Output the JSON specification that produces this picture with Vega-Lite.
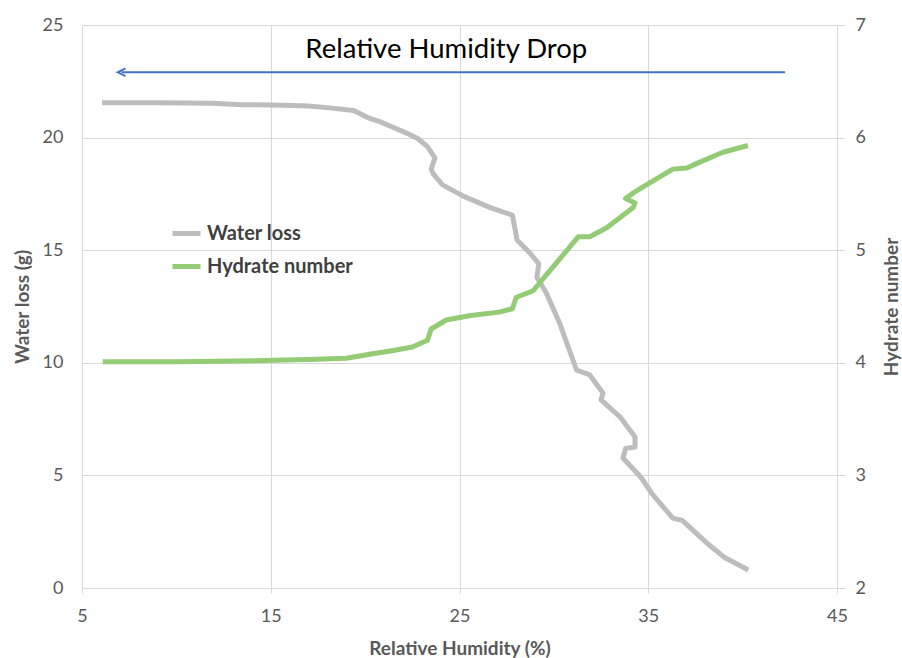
{
  "$schema": "https://vega.github.io/schema/vega-lite/v6.json",
  "width": 755,
  "height": 563,
  "autosize": {"type": "none"},
  "padding": {"left": 82, "top": 25, "right": 65, "bottom": 70},
  "background": "white",
  "config": {
    "font": "Lato",
    "view": {"stroke": null},
    "axis": {"gridColor": "#d9d9d9", "domain": false, "labelFlush": false, "labelColor": "#595959", "labelFontSize": 18, "titleColor": "#595959", "titleFontSize": 19, "titleFontWeight": "bold", "tickColor": "#d9d9d9"}
  },
  "datasets": {
    "water": [
      {"series": "Water loss", "rh": 6.06, "v": 21.55}, {"series": "Water loss", "rh": 9.0, "v": 21.55}, {"series": "Water loss", "rh": 11.9, "v": 21.52}, {"series": "Water loss", "rh": 13.5, "v": 21.46},
      {"series": "Water loss", "rh": 15.1, "v": 21.45}, {"series": "Water loss", "rh": 17.0, "v": 21.4}, {"series": "Water loss", "rh": 18.1, "v": 21.32}, {"series": "Water loss", "rh": 19.4, "v": 21.2},
      {"series": "Water loss", "rh": 20.1, "v": 20.9}, {"series": "Water loss", "rh": 20.8, "v": 20.7}, {"series": "Water loss", "rh": 21.5, "v": 20.45}, {"series": "Water loss", "rh": 22.2, "v": 20.2},
      {"series": "Water loss", "rh": 22.8, "v": 19.95}, {"series": "Water loss", "rh": 23.3, "v": 19.6}, {"series": "Water loss", "rh": 23.7, "v": 19.1}, {"series": "Water loss", "rh": 23.5, "v": 18.6},
      {"series": "Water loss", "rh": 23.6, "v": 18.4}, {"series": "Water loss", "rh": 24.1, "v": 17.9}, {"series": "Water loss", "rh": 25.2, "v": 17.4}, {"series": "Water loss", "rh": 26.6, "v": 16.9},
      {"series": "Water loss", "rh": 27.8, "v": 16.56}, {"series": "Water loss", "rh": 28.05, "v": 15.45}, {"series": "Water loss", "rh": 28.7, "v": 14.9}, {"series": "Water loss", "rh": 29.2, "v": 14.4},
      {"series": "Water loss", "rh": 29.1, "v": 13.8}, {"series": "Water loss", "rh": 29.6, "v": 13.1}, {"series": "Water loss", "rh": 30.3, "v": 11.77}, {"series": "Water loss", "rh": 31.2, "v": 9.68},
      {"series": "Water loss", "rh": 31.9, "v": 9.46}, {"series": "Water loss", "rh": 32.6, "v": 8.66}, {"series": "Water loss", "rh": 32.5, "v": 8.35}, {"series": "Water loss", "rh": 33.5, "v": 7.6},
      {"series": "Water loss", "rh": 34.3, "v": 6.7}, {"series": "Water loss", "rh": 34.3, "v": 6.26}, {"series": "Water loss", "rh": 33.8, "v": 6.2}, {"series": "Water loss", "rh": 33.66, "v": 5.77},
      {"series": "Water loss", "rh": 34.6, "v": 4.93}, {"series": "Water loss", "rh": 35.25, "v": 4.13}, {"series": "Water loss", "rh": 36.3, "v": 3.1}, {"series": "Water loss", "rh": 36.8, "v": 3.0},
      {"series": "Water loss", "rh": 38.1, "v": 2.0}, {"series": "Water loss", "rh": 39.0, "v": 1.38}, {"series": "Water loss", "rh": 40.3, "v": 0.8}
    ],
    "hydrate": [
      {"series": "Hydrate number", "rh": 6.1, "h": 4.01}, {"series": "Hydrate number", "rh": 10.0, "h": 4.01}, {"series": "Hydrate number", "rh": 14.6, "h": 4.02}, {"series": "Hydrate number", "rh": 17.0, "h": 4.03},
      {"series": "Hydrate number", "rh": 19.0, "h": 4.04}, {"series": "Hydrate number", "rh": 20.4, "h": 4.08}, {"series": "Hydrate number", "rh": 21.5, "h": 4.11}, {"series": "Hydrate number", "rh": 22.5, "h": 4.14},
      {"series": "Hydrate number", "rh": 23.3, "h": 4.2}, {"series": "Hydrate number", "rh": 23.5, "h": 4.3}, {"series": "Hydrate number", "rh": 24.3, "h": 4.38}, {"series": "Hydrate number", "rh": 25.6, "h": 4.42},
      {"series": "Hydrate number", "rh": 27.1, "h": 4.45}, {"series": "Hydrate number", "rh": 27.8, "h": 4.48}, {"series": "Hydrate number", "rh": 28.0, "h": 4.58}, {"series": "Hydrate number", "rh": 28.9, "h": 4.64},
      {"series": "Hydrate number", "rh": 29.4, "h": 4.74}, {"series": "Hydrate number", "rh": 31.3, "h": 5.12}, {"series": "Hydrate number", "rh": 31.9, "h": 5.12}, {"series": "Hydrate number", "rh": 32.8, "h": 5.2},
      {"series": "Hydrate number", "rh": 34.2, "h": 5.38}, {"series": "Hydrate number", "rh": 34.3, "h": 5.42}, {"series": "Hydrate number", "rh": 33.8, "h": 5.46}, {"series": "Hydrate number", "rh": 34.4, "h": 5.53},
      {"series": "Hydrate number", "rh": 35.1, "h": 5.6}, {"series": "Hydrate number", "rh": 36.3, "h": 5.72}, {"series": "Hydrate number", "rh": 37.05, "h": 5.73}, {"series": "Hydrate number", "rh": 37.7, "h": 5.78},
      {"series": "Hydrate number", "rh": 38.96, "h": 5.87}, {"series": "Hydrate number", "rh": 40.28, "h": 5.93}
    ],
    "arrow": [{"x1": 42.25, "x2": 7.1, "y": 22.9}],
    "label": [{"x": 24.3, "y": 23.9, "text": "Relative Humidity Drop"}]
  },
  "layer": [
    {
      "layer": [
        {
          "data": {"name": "water"},
          "mark": {"type": "line", "strokeWidth": 5, "strokeJoin": "round"},
          "encoding": {
            "x": {"field": "rh", "type": "quantitative", "scale": {"domain": [5, 45], "nice": false}, "axis": {"title": "Relative Humidity (%)", "values": [5, 15, 25, 35, 45], "tickSize": 5, "labelPadding": 14, "titlePadding": 14}},
            "y": {"field": "v", "type": "quantitative", "scale": {"domain": [0, 25], "nice": false}, "axis": {"title": "Water loss (g)", "values": [0, 5, 10, 15, 20, 25], "ticks": false, "labelPadding": 19, "titlePadding": 10}},
            "color": {"field": "series", "type": "nominal", "scale": {"domain": ["Water loss", "Hydrate number"], "range": ["#bdbdbd", "#93cc74"]},
              "legend": {"title": null, "orient": "none", "legendX": 88, "legendY": 192, "symbolType": "stroke", "symbolStrokeWidth": 5, "symbolSize": 784, "labelFontSize": 20, "labelColor": "#404040", "labelFontWeight": "bold", "labelOffset": 4, "rowPadding": 6}},
            "order": {"value": null}
          }
        },
        {
          "data": {"name": "arrow"},
          "mark": {"type": "rule", "color": "#4472c4", "strokeWidth": 2},
          "encoding": {"x": {"field": "x1", "type": "quantitative"}, "x2": {"field": "x2"}, "y": {"field": "y", "type": "quantitative"}}
        },
        {
          "data": {"name": "arrow"},
          "mark": {"type": "point", "shape": "M1,-1L-1,0L1,1", "filled": false, "color": "#4472c4", "strokeWidth": 2, "size": 60, "opacity": 1},
          "encoding": {"x": {"field": "x2", "type": "quantitative"}, "y": {"field": "y", "type": "quantitative"}}
        },
        {
          "data": {"name": "label"},
          "mark": {"type": "text", "fontSize": 27.5, "color": "#000000", "font": "Lato"},
          "encoding": {"x": {"field": "x", "type": "quantitative"}, "y": {"field": "y", "type": "quantitative"}, "text": {"field": "text"}}
        }
      ]
    },
    {
      "data": {"name": "hydrate"},
      "mark": {"type": "line", "strokeWidth": 5, "strokeJoin": "round"},
      "encoding": {
        "x": {"field": "rh", "type": "quantitative"},
        "y": {"field": "h", "type": "quantitative", "scale": {"domain": [2, 7], "nice": false}, "axis": {"orient": "right", "title": "Hydrate number", "values": [2, 3, 4, 5, 6, 7], "grid": false, "tickSize": 8, "labelPadding": 10, "titleAngle": 270, "titlePadding": 36}},
        "color": {"field": "series", "type": "nominal"},
        "order": {"value": null}
      }
    }
  ],
  "resolve": {"scale": {"y": "independent"}}
}
